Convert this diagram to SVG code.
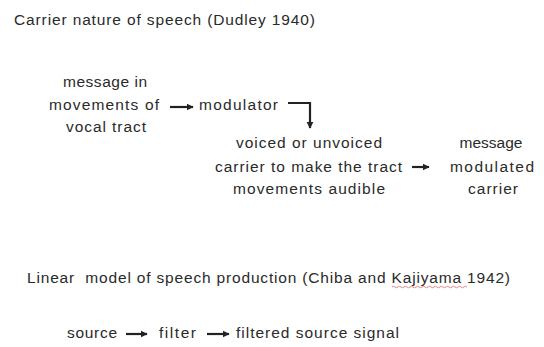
<svg xmlns="http://www.w3.org/2000/svg" width="544" height="347" viewBox="0 0 544 347">
<style>
text{font-family:"Liberation Sans",Arial,sans-serif;font-size:15.5px;fill:#2a2a2a;white-space:pre}
.c{text-anchor:middle}
.ln{stroke:#222;stroke-width:2.2;fill:none}
</style>
<defs>
<marker id="ah" viewBox="0 0 10 10" refX="9" refY="5" markerWidth="3.2" markerHeight="3.2" orient="auto" markerUnits="strokeWidth">
<path d="M0,0 L10,5 L0,10 z" fill="#222"/>
</marker>
</defs>
<rect width="544" height="347" fill="#fff"/>
<g id="title1"><text x="14" y="25" textLength="301" lengthAdjust="spacing">Carrier nature of speech (Dudley 1940)</text></g>
<g id="message-in-movements">
<text class="c" x="105" y="87" textLength="84" lengthAdjust="spacing">message in</text>
<text class="c" x="104" y="110" textLength="110" lengthAdjust="spacing">movements of</text>
<text class="c" x="106" y="132" textLength="80" lengthAdjust="spacing">vocal tract</text>
</g>
<g id="modulator"><text class="c" x="238.5" y="110" textLength="79" lengthAdjust="spacing">modulator</text></g>
<g id="carrier">
<text class="c" x="309" y="148" textLength="146" lengthAdjust="spacing">voiced or unvoiced</text>
<text class="c" x="308.5" y="171.5" textLength="187" lengthAdjust="spacing">carrier to make the tract</text>
<text class="c" x="309" y="194" textLength="152" lengthAdjust="spacing">movements audible</text>
</g>
<g id="modulated-carrier">
<text class="c" x="491" y="148">message</text>
<text class="c" x="492" y="171.5" textLength="84" lengthAdjust="spacing">modulated</text>
<text class="c" x="493" y="194" textLength="50" lengthAdjust="spacing">carrier</text>
</g>
<g id="title2"><text x="27" y="283" textLength="483" lengthAdjust="spacing">Linear  model of speech production (Chiba and Kajiyama 1942)</text>
<path d="M392,287 q1.5,-1.5 3,0 t3,0 t3,0 t3,0 t3,0 t3,0 t3,0 t3,0 t3,0 t3,0 t3,0 t3,0 t3,0 t3,0 t3,0 t3,0 t3,0 t3,0 t3,0 t3,0 t3,0 t3,0 t3,0 t3,0 t3,0" stroke="#e06666" stroke-width="0.8" fill="none"/>
</g>
<g id="source"><text class="c" x="92" y="338" textLength="50" lengthAdjust="spacing">source</text></g>
<g id="filter"><text class="c" x="177.5" y="338" textLength="37" lengthAdjust="spacing">filter</text></g>
<g id="filtered"><text class="c" x="317.5" y="338" textLength="163" lengthAdjust="spacing">filtered source signal</text></g>
<g id="connectors">
<line class="ln" x1="170" y1="107" x2="193" y2="107" marker-end="url(#ah)"/>
<polyline class="ln" points="288,103 310,103 310,128" marker-end="url(#ah)"/>
<line class="ln" x1="412" y1="167" x2="429" y2="167" marker-end="url(#ah)"/>
<line class="ln" x1="126" y1="334" x2="147" y2="334" marker-end="url(#ah)"/>
<line class="ln" x1="207" y1="334" x2="229" y2="334" marker-end="url(#ah)"/>
</g>
</svg>
